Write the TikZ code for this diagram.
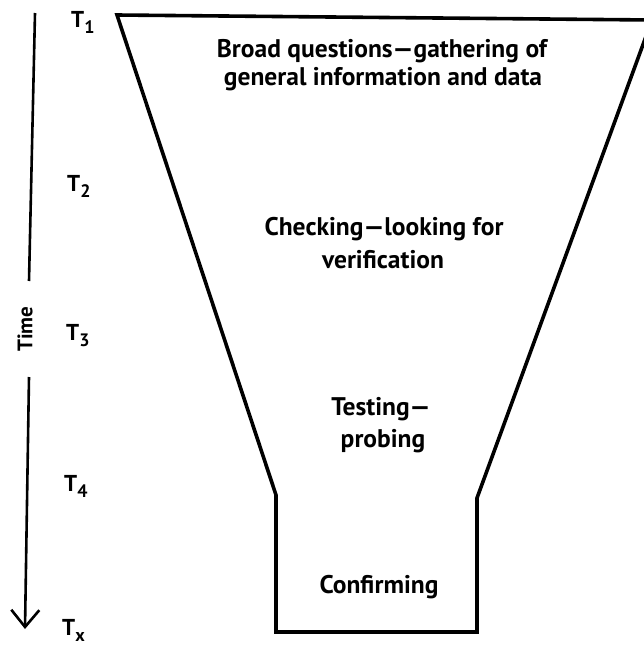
\documentclass[tikz,border=0pt]{standalone}
\usepackage{fontspec}
\setmainfont{PT Sans}
\usetikzlibrary{arrows.meta}
\tikzset{
  funnelline/.style={line width=3.6pt, line join=miter},
  axisline/.style={line width=2.6pt},
  lbl/.style={font=\bfseries\fontsize{25.5}{28}\selectfont, anchor=base, inner sep=0pt},
  tlbl/.style={font=\bfseries\fontsize{23}{26}\selectfont, anchor=base west, inner sep=0pt},
}
\newcommand{\tsub}[1]{\raisebox{-6pt}{\fontsize{18}{18}\selectfont #1}}
\begin{document}
\begin{tikzpicture}[x=1pt,y=-1pt]
\useasboundingbox (0,0) rectangle (644,646);
\clip (0,0) rectangle (644,646);
% funnel corners
\coordinate (tl) at (117,15);
\coordinate (tr) at (652,20);
\coordinate (bl1) at (276,495);
\coordinate (bl2) at (276,632);
\coordinate (br2) at (477,632);
\coordinate (br1) at (477,498);
\draw[funnelline] (tr) -- (tl) -- (bl1) -- (bl2) -- (br2) -- (br1) -- cycle;
% texts
\node[lbl] (b1) at (382,57) {Broad questions—gathering of};
\node[lbl] (b2) at (383,85) {general information and data};
\node[lbl] (c1) at (384,235) {Checking—looking for};
\node[lbl] (c2) at (383,268) {verification};
\node[lbl] (t1) at (381,415) {Testing—};
\node[lbl] (t2) at (383,447) {probing};
\node[lbl] (cf) at (379,593) {Confirming};
% time axis
\coordinate (ax0) at (35,13);
\coordinate (ax1) at (29,281);
\coordinate (ax2) at (29,377);
\coordinate (ax3) at (25,629);
\draw[axisline] (ax0) -- (ax1);
\draw[axisline, -{Straight Barb[length=17pt,width=28pt,line width=2.6pt]}] (ax2) -- (ax3);
\node[font=\bfseries\fontsize{21}{21}\selectfont, rotate=90, inner sep=0pt] (time) at (25,329) {Time};
% T labels
\node[tlbl] (T1) at (71,27) {T\tsub{1}};
\node[tlbl] (T2) at (67,191) {T\tsub{2}};
\node[tlbl] (T3) at (66,340) {T\tsub{3}};
\node[tlbl] (T4) at (64,491) {T\tsub{4}};
\node[tlbl] (Tx) at (62,635) {T\tsub{x}};
\end{tikzpicture}
\end{document}
